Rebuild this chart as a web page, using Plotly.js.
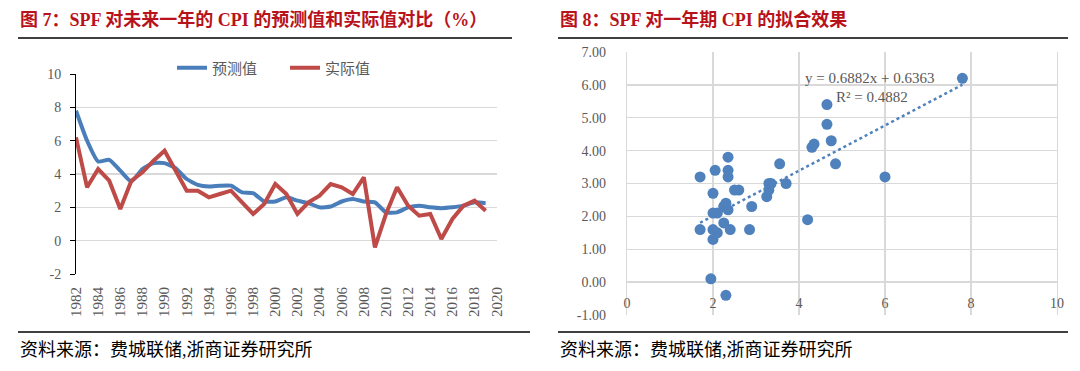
<!DOCTYPE html>
<html><head><meta charset="utf-8">
<script src="https://cdn.plot.ly/plotly-3.0.1.min.js"></script>
<style>html,body{margin:0;padding:0;background:#fff;}#chart{width:1080px;height:371px;}</style>
</head><body><div id="chart"></div>
<script>
// ---------- data ----------
const years = [1982,1983,1984,1985,1986,1987,1988,1989,1990,1991,1992,1993,1994,1995,1996,1997,1998,1999,2000,2001,2002,2003,2004,2005,2006,2007,2008,2009,2010,2011,2012,2013,2014,2015,2016,2017,2018,2019];
const forecast = [7.8,6.0,4.75,4.85,4.2,3.55,4.3,4.65,4.65,4.35,3.7,3.35,3.25,3.3,3.3,2.9,2.85,2.35,2.35,2.6,2.4,2.25,2.0,2.05,2.35,2.5,2.35,2.3,1.7,1.7,2.0,2.1,2.0,1.95,2.0,2.1,2.3,2.25];
const actual   = [6.2,3.2,4.3,3.6,1.9,3.6,4.1,4.8,5.4,4.2,3.0,3.0,2.6,2.8,3.0,2.3,1.6,2.2,3.4,2.8,1.6,2.3,2.7,3.4,3.2,2.8,3.8,-0.4,1.6,3.2,2.1,1.5,1.6,0.1,1.3,2.1,2.4,1.8];
const seriesNames = ['预测值','实际值'];
const leftYTickVals = [-2,0,2,4,6,8,10];
const leftYTickText = ['-2','0','2','4','6','8','10'];
const rightYTickVals = [-1,0,1,2,3,4,5,6,7];
const rightYTickText = ['-1.00','0.00','1.00','2.00','3.00','4.00','5.00','6.00','7.00'];
const trendSlope = 0.6882, trendIntercept = 0.6363, trendR2 = 0.4882;
const titleLeft = '图 7：SPF 对未来一年的 CPI 的预测值和实际值对比（%）';
const titleRight = '图 8：SPF 对一年期 CPI 的拟合效果';
const sourceText = '资料来源：费城联储,浙商证券研究所';

// ---------- helpers ----------
const W = 1080, H = 371;
const px = p => p / W;
const py = p => 1 - p / H;
const serif = 'Liberation Serif, Times New Roman, Noto Sans CJK SC, serif';
const grey = '#595959';
const grid = '#d9d9d9';

const Ldom = [px(76), px(496.7)];
const LdomY = [py(274), py(74)];
const Lrange = [-2, 10];
const Rdom = [px(627), px(1057)];
const RdomY = [py(315), py(52)];
const Rrange = [-1, 7];
const posAt = (dom, range, v) => dom[0] + (v - range[0]) / (range[1] - range[0]) * (dom[1] - dom[0]);

const xMin = Math.min(...forecast), xMax = Math.max(...forecast);
const trendX = [xMin, xMax];
const trendY = trendX.map(x => trendSlope * x + trendIntercept);

const traces = [
  {x: years, y: forecast, name: seriesNames[0], type: 'scatter', mode: 'lines',
   line: {color: '#4a7ebb', width: 4, shape: 'spline', smoothing: 0.5}, xaxis: 'x', yaxis: 'y'},
  {x: years, y: actual, name: seriesNames[1], type: 'scatter', mode: 'lines',
   line: {color: '#be4b48', width: 4}, xaxis: 'x', yaxis: 'y'},
  {x: forecast, y: actual, type: 'scatter', mode: 'markers', showlegend: false,
   marker: {color: '#4f81bd', size: 11}, xaxis: 'x3', yaxis: 'y3'},
  {x: trendX, y: trendY, type: 'scatter', mode: 'lines', showlegend: false,
   line: {color: '#4f81bd', width: 2.5, dash: 'dot'}, xaxis: 'x3', yaxis: 'y3'}
];

const tickFont = {family: serif, size: 14, color: grey};

const layout = {
  width: W, height: H, margin: {l: 0, r: 0, t: 0, b: 0},
  paper_bgcolor: '#fff', plot_bgcolor: 'rgba(0,0,0,0)',
  showlegend: true,
  legend: {orientation: 'h', x: px(172), xanchor: 'left', y: py(68), yanchor: 'middle',
           font: {family: serif, size: 15, color: grey}, bgcolor: 'rgba(0,0,0,0)',
           entrywidth: 68, entrywidthmode: 'pixels', traceorder: 'normal'},
  xaxis: {domain: Ldom, range: [1982, 2020], anchor: 'y', tickmode: 'linear', tick0: 1982, dtick: 2,
          tickangle: -90, showgrid: false, showline: false, zeroline: false, ticks: '',
          tickfont: {family: serif, size: 15, color: grey}, ticklabelstandoff: 9},
  xaxis2: {domain: Ldom, range: [1982, 2020], overlaying: 'x', anchor: 'free',
           position: posAt(LdomY, Lrange, 0), tickmode: 'linear', tick0: 1982, dtick: 2,
           showticklabels: false, showgrid: false, zeroline: false, showline: true,
           linecolor: '#000', linewidth: 1, ticks: 'outside', ticklen: 5, tickcolor: '#000'},
  yaxis: {domain: LdomY, range: Lrange, anchor: 'x', tickmode: 'array', tickvals: leftYTickVals, ticktext: leftYTickText,
          showgrid: true, gridcolor: grid, gridwidth: 1.3, zeroline: false, showline: true,
          linecolor: '#000', linewidth: 1, ticks: 'outside', ticklen: 5, tickcolor: '#000',
          tickfont: tickFont, ticklabelstandoff: 6},
  xaxis3: {domain: Rdom, range: [0, 10], anchor: 'free', position: posAt(RdomY, Rrange, 0),
           tickmode: 'linear', tick0: 0, dtick: 2, showgrid: true, gridcolor: grid, gridwidth: 1.3,
           zeroline: false, showline: false, ticks: '', tickfont: tickFont, ticklabelstandoff: 11},
  yaxis3: {domain: RdomY, range: Rrange, anchor: 'x3', tickmode: 'array', tickvals: rightYTickVals, ticktext: rightYTickText,
           showgrid: true, gridcolor: grid, gridwidth: 1.3, zeroline: false,
           showline: true, mirror: true, linecolor: grid, linewidth: 1.3, ticks: '',
           tickfont: tickFont, ticklabelstandoff: 17},
  annotations: [
    {xref: 'paper', yref: 'paper', x: px(18), y: py(19), xanchor: 'left', yanchor: 'middle', showarrow: false,
     text: '<b>' + titleLeft + '</b>', font: {family: serif, size: 18, color: '#b8121b'}},
    {xref: 'paper', yref: 'paper', x: px(558), y: py(19), xanchor: 'left', yanchor: 'middle', showarrow: false,
     text: '<b>' + titleRight + '</b>', font: {family: serif, size: 18, color: '#b8121b'}},
    {xref: 'paper', yref: 'paper', x: px(18), y: py(350), xanchor: 'left', yanchor: 'middle', showarrow: false,
     text: sourceText, font: {family: serif, size: 18, color: '#000'}},
    {xref: 'paper', yref: 'paper', x: px(558), y: py(350), xanchor: 'left', yanchor: 'middle', showarrow: false,
     text: sourceText, font: {family: serif, size: 18, color: '#000'}},
    {xref: 'x3', yref: 'y3', x: 5.65, y: 6.21, showarrow: false, xanchor: 'center', yanchor: 'middle',
     text: 'y = ' + trendSlope.toFixed(4) + 'x + ' + trendIntercept.toFixed(4), font: {family: serif, size: 15, color: grey}},
    {xref: 'x3', yref: 'y3', x: 5.7, y: 5.64, showarrow: false, xanchor: 'center', yanchor: 'middle',
     text: 'R² = ' + trendR2.toFixed(4), font: {family: serif, size: 15, color: grey}}
  ],
  shapes: [
    {type: 'line', xref: 'paper', yref: 'paper', x0: px(18), x1: px(512), y0: py(38), y1: py(38), line: {color: '#000', width: 1.5}},
    {type: 'line', xref: 'paper', yref: 'paper', x0: px(558), x1: px(1068), y0: py(38), y1: py(38), line: {color: '#000', width: 1.5}},
    {type: 'line', xref: 'paper', yref: 'paper', x0: px(18), x1: px(530), y0: py(332), y1: py(332), line: {color: '#000', width: 1.5}},
    {type: 'line', xref: 'paper', yref: 'paper', x0: px(558), x1: px(1068), y0: py(332), y1: py(332), line: {color: '#000', width: 1.5}}
  ]
};

Plotly.newPlot('chart', traces, layout, {displayModeBar: false, staticPlot: true});
</script>
</body></html>
